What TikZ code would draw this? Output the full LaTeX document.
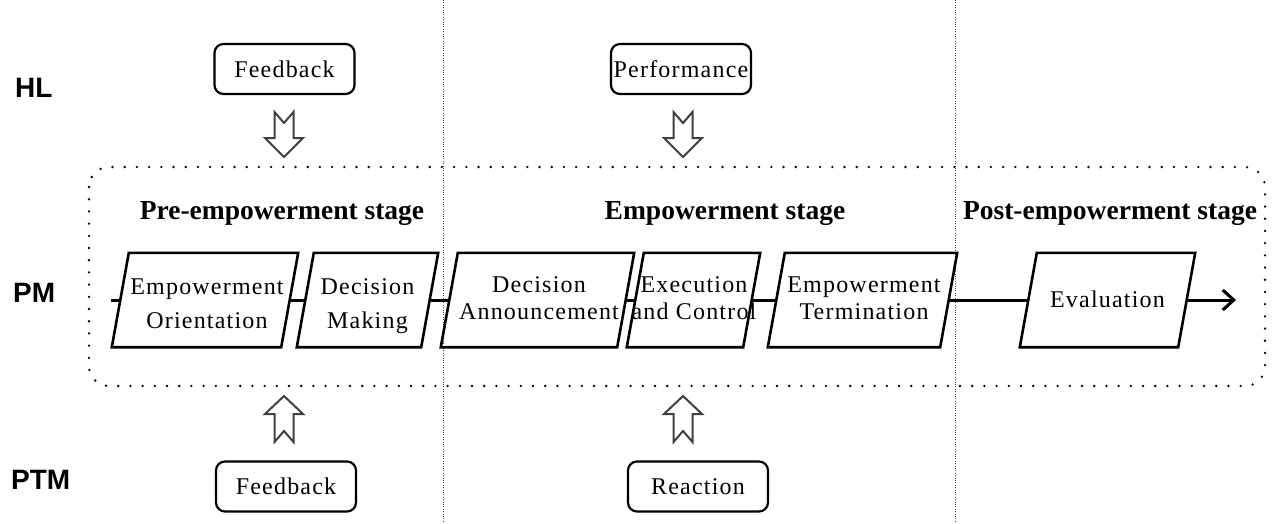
\documentclass[tikz,border=0pt]{standalone}
\usepackage{fontspec}
\setmainfont{Liberation Serif}
\newfontfamily\boxfont[LetterSpace=5]{Liberation Serif}
\newfontfamily\lblfont{Liberation Sans}
\usetikzlibrary{arrows.meta}
\begin{document}
\begin{tikzpicture}[x=1pt,y=-1pt,
  sepline/.style={line width=0.8pt, dash pattern=on 1pt off 1.4pt, black!75},
  frame/.style={line width=2.6pt, line cap=round, dash pattern=on 0pt off 12.2pt},
  pgnode/.style={minimum height=94pt, inner sep=0pt, draw=none},
  pgline/.style={line width=2.6pt, line join=miter},
  pgtext/.style={font=\boxfont\fontsize{24}{34}\selectfont, align=center, inner sep=0pt, anchor=base},
  pgtextb/.style={pgtext, font=\boxfont\fontsize{24}{27}\selectfont},
  flow/.style={line width=3pt},
  infobox/.style={draw, line width=2.2pt, rounded corners=9pt, minimum width=140pt, minimum height=50pt,
    inner sep=0pt, font=\boxfont\fontsize{24}{28}\selectfont, text height=16pt, text depth=0pt},
  harrow/.style={draw=black!75, line width=2pt, line join=miter, fill=white},
  stage/.style={font=\fontsize{27.5}{30}\selectfont\bfseries, anchor=base, inner sep=0pt},
  side/.style={font=\lblfont\fontsize{28}{32}\selectfont\bfseries, anchor=base west, inner sep=0pt}
]
\useasboundingbox (0,0) rectangle (1280,523);

% separators
\draw[sepline] (443,0) -- (443,523);
\draw[sepline] (955,0) -- (955,523);

% dotted frame
\draw[frame, rounded corners=20pt] (89,167) rectangle (1265,386);

% side labels
\node[side] (hl) at (15,97) {HL};
\node[side] (pm) at (13,302) {PM};
\node[side] (ptm) at (11,489) {PTM};

% stage labels
\node[stage] (s1) at (282,219) {Pre-empowerment stage};
\node[stage] (s2) at (725,219) {Empowerment stage};
\node[stage] (s3) at (1110,219) {Post-empowerment stage};

% parallelograms
\node[pgnode, minimum width=169pt] (p1) at (205,300) {};
\node[pgnode, minimum width=124pt] (p2) at (367.5,300) {};
\node[pgnode, minimum width=176pt] (p3) at (537.5,300) {};
\node[pgnode, minimum width=116pt] (p4) at (693.5,300) {};
\node[pgnode, minimum width=172pt] (p5) at (862.5,300) {};
\node[pgnode, minimum width=158pt] (p6) at (1107.5,300) {};
\foreach \n in {p1,p2,p3,p4,p5,p6}{
  \draw[pgline] ([xshift=-8.5pt]\n.south west) -- ([xshift=8.5pt]\n.north west)
     -- ([xshift=8.5pt]\n.north east) -- ([xshift=-8.5pt]\n.south east) -- cycle;
}
\node[pgtext] (t1) at (207,328) {Empowerment\\Orientation};
\node[pgtext] (t2) at (367.5,328) {Decision\\Making};
\node[pgtextb] (t3) at (539,319) {Decision\\Announcement};
\node[pgtextb] (t4) at (694,319) {Execution\\and Control};
\node[pgtextb] (t5) at (864,319) {Empowerment\\Termination};
\node[pgtext] (t6) at (1107.5,307) {Evaluation};

% flow line
\coordinate (start) at (111,300);
\coordinate (end) at (1236,300);
\draw[flow] (start) -- (p1.west);
\draw[flow] (p1.east) -- (p2.west);
\draw[flow] (p2.east) -- (p3.west);
\draw[flow] (p3.east) -- (p4.west);
\draw[flow] (p4.east) -- (p5.west);
\draw[flow] (p5.east) -- (p6.west);
\draw[flow, -{Straight Barb[length=11pt, width=20pt, line width=3pt]}] (p6.east) -- (end);

% info boxes
\node[infobox] (fb1) at (284.5,69) {Feedback};
\node[infobox] (perf) at (681,69) {Performance};
\node[infobox] (fb2) at (286,486.5) {Feedback};
\node[infobox] (react) at (698,486.5) {Reaction};

% hollow arrows (down)
\foreach \cx in {284,683}{
  \draw[harrow] (\cx,157) -- (\cx-19,138) -- (\cx-9.5,138) -- (\cx-9.5,112) -- (\cx,123)
     -- (\cx+9.5,112) -- (\cx+9.5,138) -- (\cx+19,138) -- cycle;
}
% hollow arrows (up)
\foreach \cx in {284,683}{
  \draw[harrow] (\cx,396) -- (\cx-19,414) -- (\cx-9.5,414) -- (\cx-9.5,442) -- (\cx,431)
     -- (\cx+9.5,442) -- (\cx+9.5,414) -- (\cx+19,414) -- cycle;
}
\end{tikzpicture}
\end{document}
